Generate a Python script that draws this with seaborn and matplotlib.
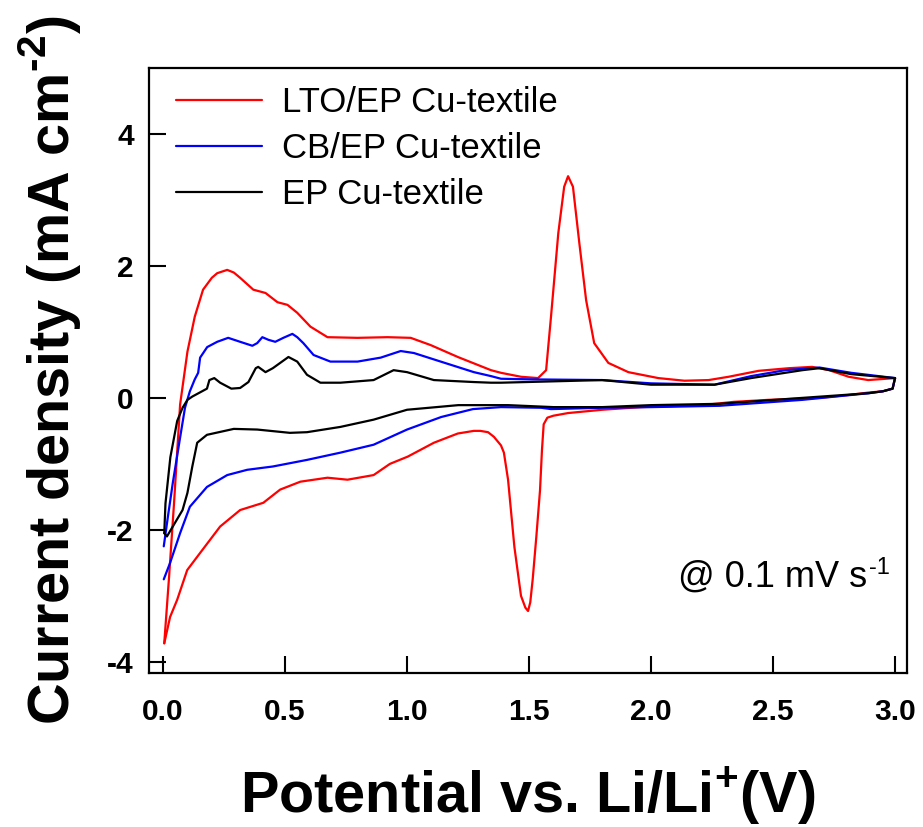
import numpy as np
import pandas as pd
import matplotlib
matplotlib.use("Agg")
import matplotlib.pyplot as plt
import seaborn as sns

# ---------------- data ----------------
series_names = ["LTO/EP Cu-textile", "CB/EP Cu-textile", "EP Cu-textile"]
series_colors = ["#ff0000", "#0000ff", "#000000"]

# LTO/EP : cathodic sweep (3.0 V -> 0 V)
lto_cat_x = [3.00, 2.99, 2.95, 2.89, 2.80, 2.69, 2.48, 2.34, 2.21, 1.96, 1.80, 1.66, 1.60, 1.575,
             1.56, 1.553, 1.545, 1.53, 1.515, 1.505, 1.496, 1.485, 1.467, 1.44, 1.414, 1.397,
             1.385, 1.356, 1.332, 1.30, 1.274, 1.208, 1.11, 1.003, 0.93, 0.863, 0.756, 0.674,
             0.60, 0.563, 0.48, 0.411, 0.316, 0.234, 0.152, 0.099, 0.058, 0.029, 0.005]
lto_cat_y = [0.30, 0.14, 0.10, 0.08, 0.04, 0.00, -0.03, -0.06, -0.11, -0.14, -0.18, -0.23, -0.27, -0.30,
             -0.40, -0.79, -1.40, -2.10, -2.75, -3.10, -3.23, -3.18, -3.00, -2.26, -1.24, -0.83,
             -0.72, -0.59, -0.52, -0.50, -0.50, -0.54, -0.68, -0.89, -1.00, -1.17, -1.24, -1.21,
             -1.25, -1.27, -1.39, -1.59, -1.70, -1.95, -2.35, -2.61, -3.06, -3.32, -3.72]
# LTO/EP : anodic sweep (0 V -> 3.0 V)
lto_ano_x = [0.005, 0.025, 0.045, 0.07, 0.085, 0.10, 0.13, 0.164, 0.20, 0.222, 0.263, 0.29, 0.316,
             0.37, 0.42, 0.469, 0.51, 0.55, 0.604, 0.674, 0.797, 0.92, 1.015, 1.097, 1.208, 1.344,
             1.385, 1.467, 1.537, 1.57, 1.59, 1.62, 1.644, 1.66, 1.68, 1.706, 1.734, 1.767, 1.825,
             1.907, 2.03, 2.137, 2.236, 2.318, 2.441, 2.565, 2.66, 2.73, 2.81, 2.89, 3.00]
lto_ano_y = [-3.72, -2.70, -1.60, -0.10, 0.30, 0.70, 1.23, 1.64, 1.82, 1.89, 1.94, 1.90, 1.82,
             1.64, 1.59, 1.45, 1.41, 1.29, 1.08, 0.92, 0.91, 0.92, 0.91, 0.80, 0.62, 0.42,
             0.38, 0.32, 0.30, 0.42, 1.23, 2.50, 3.20, 3.36, 3.20, 2.35, 1.48, 0.83, 0.53,
             0.39, 0.30, 0.26, 0.27, 0.32, 0.41, 0.45, 0.47, 0.42, 0.32, 0.27, 0.30]

# CB/EP
cb_cat_x = [3.00, 2.99, 2.95, 2.89, 2.62, 2.28, 2.00, 1.80, 1.59, 1.55, 1.385, 1.27, 1.14, 1.00,
            0.863, 0.727, 0.59, 0.45, 0.345, 0.263, 0.18, 0.11, 0.07, 0.029, 0.003]
cb_cat_y = [0.30, 0.14, 0.10, 0.07, -0.03, -0.12, -0.14, -0.15, -0.17, -0.15, -0.14, -0.17, -0.29, -0.48,
            -0.71, -0.83, -0.94, -1.04, -1.09, -1.17, -1.35, -1.65, -2.05, -2.50, -2.75]
cb_ano_x = [0.003, 0.02, 0.04, 0.07, 0.09, 0.11, 0.13, 0.144, 0.152, 0.181, 0.222, 0.267, 0.316,
            0.366, 0.386, 0.407, 0.432, 0.46, 0.493, 0.53, 0.55, 0.575, 0.617, 0.686, 0.797,
            0.892, 0.974, 1.028, 1.138, 1.274, 1.344, 1.385, 1.52, 1.80, 2.00, 2.26, 2.41, 2.55,
            2.69, 2.82, 3.00]
cb_ano_y = [-2.25, -1.80, -1.29, -0.60, -0.15, 0.10, 0.28, 0.38, 0.61, 0.77, 0.85, 0.91, 0.85,
            0.79, 0.83, 0.92, 0.88, 0.85, 0.91, 0.97, 0.92, 0.83, 0.65, 0.55, 0.55,
            0.61, 0.71, 0.68, 0.55, 0.39, 0.33, 0.29, 0.28, 0.27, 0.22, 0.20, 0.33, 0.42,
            0.46, 0.38, 0.30]

# EP
ep_cat_x = [3.00, 2.99, 2.95, 2.89, 2.62, 2.28, 2.00, 1.80, 1.60, 1.414, 1.21, 1.00, 0.863, 0.727,
            0.59, 0.52, 0.386, 0.29, 0.18, 0.14, 0.12, 0.10, 0.08, 0.04, 0.016, 0.005]
ep_cat_y = [0.30, 0.14, 0.10, 0.07, 0.00, -0.09, -0.11, -0.14, -0.14, -0.11, -0.11, -0.18, -0.33, -0.44,
            -0.52, -0.53, -0.48, -0.47, -0.56, -0.68, -1.04, -1.44, -1.70, -1.95, -2.10, -2.05]
ep_ano_x = [0.005, 0.01, 0.03, 0.058, 0.08, 0.10, 0.12, 0.15, 0.18, 0.19, 0.21, 0.234, 0.28, 0.316,
            0.35, 0.38, 0.39, 0.42, 0.45, 0.514, 0.55, 0.59, 0.645, 0.727, 0.863, 0.945, 1.00,
            1.11, 1.274, 1.344, 1.385, 1.80, 2.00, 2.26, 2.41, 2.62, 2.69, 2.82, 3.00]
ep_ano_y = [-2.05, -1.60, -0.90, -0.35, -0.15, -0.03, 0.02, 0.08, 0.14, 0.27, 0.30, 0.23, 0.14, 0.15,
            0.24, 0.45, 0.47, 0.39, 0.45, 0.62, 0.55, 0.35, 0.23, 0.23, 0.27, 0.42, 0.39,
            0.27, 0.24, 0.23, 0.23, 0.27, 0.20, 0.20, 0.30, 0.42, 0.45, 0.36, 0.30]

x_ticks = [0.0, 0.5, 1.0, 1.5, 2.0, 2.5, 3.0]
x_tick_labels = ["0.0", "0.5", "1.0", "1.5", "2.0", "2.5", "3.0"]
y_ticks = [-4, -2, 0, 2, 4]
y_tick_labels = ["-4", "-2", "0", "2", "4"]

# ---------------- build long table ----------------
rows = []
branches = [
    (series_names[0], "lto_cat", lto_cat_x, lto_cat_y),
    (series_names[0], "lto_ano", lto_ano_x, lto_ano_y),
    (series_names[1], "cb_cat", cb_cat_x, cb_cat_y),
    (series_names[1], "cb_ano", cb_ano_x, cb_ano_y),
    (series_names[2], "ep_cat", ep_cat_x, ep_cat_y),
    (series_names[2], "ep_ano", ep_ano_x, ep_ano_y),
]
for name, br, xs, ys in branches:
    for i, (xv, yv) in enumerate(zip(xs, ys)):
        rows.append({"series": name, "branch": br, "order": i, "V": xv, "J": yv})
df = pd.DataFrame(rows)

# ---------------- plot ----------------
sns.set_theme(style="white")
plt.rcParams["font.family"] = ["Liberation Sans", "DejaVu Sans"]
plt.rcParams["axes.unicode_minus"] = False
plt.rcParams["text.color"] = "black"
plt.rcParams["axes.labelcolor"] = "black"
plt.rcParams["xtick.color"] = "black"
plt.rcParams["ytick.color"] = "black"
plt.rcParams["mathtext.fontset"] = "custom"
plt.rcParams["mathtext.rm"] = "Liberation Sans:bold"
plt.rcParams["mathtext.bf"] = "Liberation Sans:bold"

fig = plt.figure(figsize=(9.23, 8.27), dpi=100)
ax = fig.add_axes([149 / 923, 1 - 673 / 827, (907 - 149) / 923, (673 - 68) / 827])

sns.lineplot(data=df, x="V", y="J", hue="series", hue_order=series_names,
             units="branch", estimator=None, sort=False,
             palette=dict(zip(series_names, series_colors)), linewidth=1.6, ax=ax)

ax.set_xlim(-0.0575, 3.049)
ax.set_ylim(-4.17, 5.0)
ax.set_xticks(x_ticks)
ax.set_xticklabels(x_tick_labels, fontsize=21.5, fontweight="bold", color="black")
ax.set_yticks(y_ticks)
ax.set_yticklabels(y_tick_labels, fontsize=21.5, fontweight="bold", color="black")
ax.tick_params(axis="both", direction="in", length=12, width=1.5, color="black",
               bottom=True, left=True, top=False, right=False)
ax.tick_params(axis="y", pad=11)
ax.tick_params(axis="x", pad=18)
for sp in ax.spines.values():
    sp.set_visible(True)
    sp.set_color("black")
    sp.set_linewidth(1.6)

ax.set_xlabel(r"Potential vs. Li/Li$^{\text{+}}$(V)", fontsize=41.5, fontweight="bold", color="black")
ax.set_ylabel(r"Current density (mA cm$^{\text{-2}}$)", fontsize=41.5, fontweight="bold", color="black")
ax.xaxis.set_label_coords(0.5, -0.2314)
ax.xaxis.label.set_verticalalignment("baseline")
ax.yaxis.set_label_coords(-0.104, 0.5)
ax.yaxis.label.set_verticalalignment("baseline")

# legend
leg = ax.get_legend()
handles = leg.legend_handles
leg.remove()
ax.legend(handles, series_names, loc="upper left", bbox_to_anchor=(0.0356, 0.970),
          borderaxespad=0, borderpad=0, frameon=False, fontsize=25,
          handlelength=2.48, handletextpad=0.58, labelspacing=0.37)

t = ax.text(0.948, 0.142, "@ 0.1 mV s", transform=ax.transAxes,
            ha="right", va="baseline", fontsize=26, color="black")
ax.annotate("-1", xy=(1.0, 1.0), xycoords=t, xytext=(1, 2), textcoords="offset points",
            ha="left", va="top", fontsize=17, color="black")

fig.savefig("out.png", dpi=100)
